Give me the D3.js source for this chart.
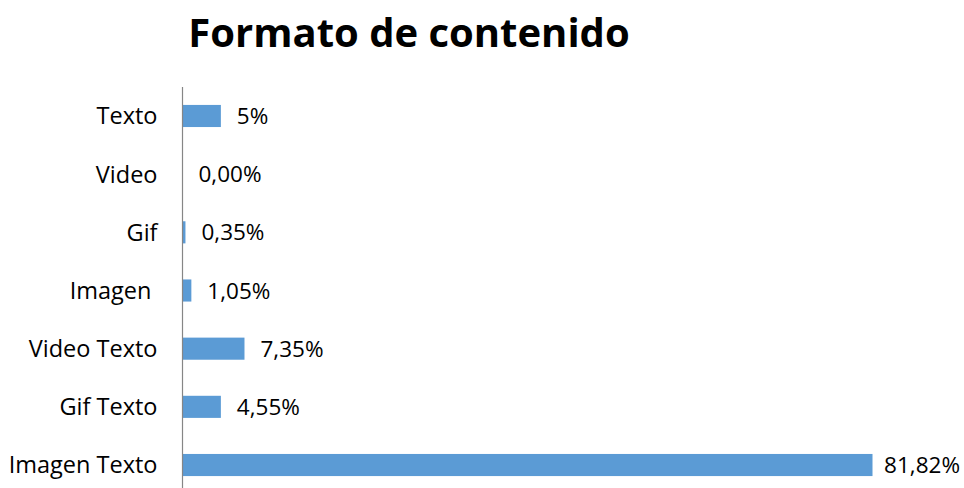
<!DOCTYPE html>
<html>
<head>
<meta charset="utf-8">
<script src="https://cdn.jsdelivr.net/npm/d3@7"></script>
<style>
  html, body { margin: 0; padding: 0; background: #fff; }
  svg { display: block; }
  text { font-family: "Open Sans", Lato, sans-serif; fill: #000; white-space: pre; }
</style>
</head>
<body>
<svg id="chart" width="964" height="488"></svg>
<script>
const title = "Formato de contenido";
const categories = ["Texto", "Video", "Gif", "Imagen ", "Video Texto", "Gif Texto", "Imagen Texto"];
const values = [4.55, 0, 0.35, 1.05, 7.35, 4.55, 81.82];
const valueLabels = ["5%", "0,00%", "0,35%", "1,05%", "7,35%", "4,55%", "81,82%"];

const W = 964, H = 488;
const svg = d3.select("#chart");

const x = d3.scaleLinear()
  .domain([0, d3.max(values)])
  .range([182.5, 872.5]);

const y = d3.scaleBand()
  .domain(categories)
  .range([86.9, 494.1])
  .paddingInner(0.62)
  .paddingOuter(0.31);

// title
svg.append("text")
  .attr("x", 409)
  .attr("y", 47)
  .attr("text-anchor", "middle")
  .style("font-size", "40px")
  .style("font-weight", "700")
  .text(title);

// bars
svg.append("g").selectAll("rect")
  .data(values)
  .join("rect")
  .attr("x", x(0))
  .attr("y", (d, i) => y(categories[i]))
  .attr("width", d => x(d) - x(0))
  .attr("height", y.bandwidth())
  .attr("fill", "#5b9bd5");

// axis (left) using d3 axis, ticks hidden
const axis = d3.axisLeft(y).tickSize(0).tickPadding(25);
const gAxis = svg.append("g")
  .attr("transform", `translate(${x(0)},0)`)
  .call(axis);
gAxis.select(".domain").remove();
gAxis.selectAll("text")
  .style("font-size", "23.5px")
  .style("font-family", "'Open Sans', Lato, sans-serif")
  .attr("dy", "0.36em");

svg.append("line")
  .attr("x1", x(0)).attr("x2", x(0))
  .attr("y1", 87).attr("y2", H)
  .attr("stroke", "#868686")
  .attr("stroke-width", 1.2);

// value labels
const lbl = svg.append("g").selectAll("text")
  .data(values)
  .join("text")
  .attr("y", (d, i) => y(categories[i]) + y.bandwidth() / 2)
  .attr("dy", "0.36em")
  .style("font-size", "22.5px")
  .text((d, i) => valueLabels[i]);
lbl.attr("x", function(d) {
  const w = this.getComputedTextLength();
  return Math.min(x(d) + 16, W - w - 4);
});
</script>
</body>
</html>
